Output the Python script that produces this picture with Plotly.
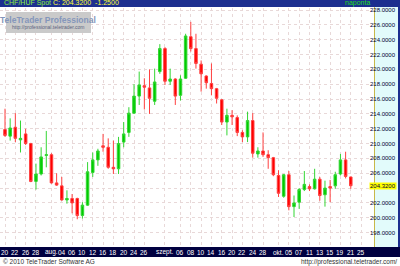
import plotly.graph_objects as go

# trading days shown on the axis (Jul 20 - Oct 25, 2010)
trade_days = [
    "2010-07-20","2010-07-21","2010-07-22","2010-07-23","2010-07-26","2010-07-27","2010-07-28","2010-07-29","2010-07-30",
    "2010-08-02","2010-08-03","2010-08-04","2010-08-05","2010-08-06","2010-08-09","2010-08-10","2010-08-11","2010-08-12",
    "2010-08-13","2010-08-16","2010-08-17","2010-08-18","2010-08-19","2010-08-20","2010-08-23","2010-08-24","2010-08-25",
    "2010-08-26","2010-08-27","2010-08-30","2010-08-31",
    "2010-09-01","2010-09-02","2010-09-03","2010-09-06","2010-09-07","2010-09-08","2010-09-09","2010-09-10","2010-09-13",
    "2010-09-14","2010-09-15","2010-09-16","2010-09-17","2010-09-20","2010-09-21","2010-09-22","2010-09-23","2010-09-24",
    "2010-09-27","2010-09-28","2010-09-29","2010-09-30",
    "2010-10-01","2010-10-04","2010-10-05","2010-10-06","2010-10-07","2010-10-08","2010-10-11","2010-10-12","2010-10-13",
    "2010-10-14","2010-10-15","2010-10-18","2010-10-19","2010-10-20","2010-10-21","2010-10-22","2010-10-25",
]

open_ = [211.9, 211.0, 212.2, 210.5, 211.3, 210.0, 204.9, 205.9, 208.4, 208.5,
         204.7, 204.3, 202.4, 202.6, 202.6, 200.3, 201.7, 206.1, 207.8, 209.7,
         209.5, 206.8, 206.6, 210.2, 211.5, 214.1, 216.4, 217.8, 217.5, 215.7,
         219.7, 222.8, 218.4, 218.7, 216.5, 218.8, 224.4, 222.8, 220.7, 219.1,
         218.1, 217.4, 215.9, 212.9, 213.8, 213.5, 211.5, 210.9, 213.1, 208.6,
         209.0, 208.5, 208.1, 205.7, 202.9, 205.8, 201.5, 202.1, 203.8, 204.2,
         203.9, 205.2, 203.1, 204.2, 204.3, 205.9, 207.8, 205.5]
high = [214.7, 213.4, 214.1, 213.1, 212.0, 210.1, 207.3, 209.5, 211.7, 208.7,
        206.0, 205.5, 203.7, 203.2, 202.7, 202.1, 207.5, 208.8, 209.3, 211.3,
        210.7, 210.4, 210.9, 212.9, 214.9, 218.0, 219.7, 218.8, 220.0, 220.1,
        223.4, 223.0, 220.1, 218.8, 219.2, 224.8, 226.4, 224.8, 221.2, 219.2,
        220.8, 217.5, 216.0, 214.7, 214.5, 213.8, 211.8, 214.3, 214.1, 209.5,
        211.5, 209.1, 208.2, 206.4, 205.9, 206.3, 203.0, 204.0, 206.3, 204.5,
        206.6, 205.5, 205.0, 205.1, 206.2, 208.6, 208.9, 205.5]
low = [210.9, 210.4, 210.2, 208.8, 209.8, 204.8, 203.8, 205.7, 206.8, 204.6,
       204.3, 202.3, 201.9, 200.6, 199.8, 199.9, 201.6, 205.5, 207.0, 208.9,
       206.6, 205.9, 205.9, 209.5, 210.9, 214.0, 215.2, 214.6, 214.0, 215.2,
       219.4, 217.9, 217.9, 215.2, 215.8, 218.7, 222.4, 220.1, 217.0, 217.4,
       216.5, 215.4, 212.5, 211.1, 212.5, 211.0, 210.2, 210.2, 208.1, 208.1,
       208.2, 206.6, 205.6, 202.8, 202.7, 201.0, 200.1, 201.2, 203.6, 203.6,
       203.8, 202.3, 201.5, 202.1, 203.9, 205.7, 205.3, 203.9]
close = [211.1, 212.1, 210.7, 210.7, 210.0, 204.9, 205.9, 208.2, 208.5, 204.7,
         204.4, 202.4, 202.6, 202.0, 200.3, 201.7, 206.2, 207.8, 209.0, 209.5,
         206.8, 206.6, 210.0, 211.3, 214.1, 216.4, 217.9, 217.6, 216.1, 218.3,
         222.8, 218.4, 218.7, 216.4, 218.7, 224.5, 222.8, 220.8, 219.4, 218.2,
         217.4, 216.1, 212.9, 213.8, 213.6, 211.5, 210.9, 213.1, 208.7, 209.0,
         208.5, 208.1, 205.8, 203.3, 205.8, 201.5, 202.0, 203.8, 204.5, 203.9,
         205.2, 203.0, 204.0, 204.0, 205.8, 207.8, 205.57, 204.32]

tick_dates = ["2010-07-20","2010-07-22","2010-07-26","2010-07-28","2010-08-02","2010-08-04","2010-08-06",
              "2010-08-10","2010-08-12","2010-08-16","2010-08-18","2010-08-20","2010-08-24","2010-08-26",
              "2010-09-01","2010-09-06","2010-09-08","2010-09-10","2010-09-14","2010-09-16","2010-09-20",
              "2010-09-22","2010-09-24","2010-09-28","2010-10-01","2010-10-05","2010-10-07","2010-10-11",
              "2010-10-13","2010-10-15","2010-10-19","2010-10-21","2010-10-25"]
tick_text = ["20","22","26","28","aug.","04","06","10","12","16","18","20","24","26",
             "szept.","06","08","10","14","16","20","22","24","28","okt.","05","07","11",
             "13","15","19","21","25"]

y_ticks = [198, 200, 202, 204, 206, 208, 210, 212, 214, 216, 218, 220, 222, 224, 226, 228]
y_text = ["198.0000","200.0000","202.0000","","206.0000","208.0000","210.0000","212.0000",
          "214.0000","216.0000","218.0000","220.0000","222.0000","224.0000","226.0000","228.0000"]

last_close = 204.32
title_name = "CHF/HUF Spot"
title_vals = "C: 204.3200  -1.2500"

FONT = "Liberation Sans Narrow, Arial Narrow, Liberation Sans, Arial, sans-serif"

n = len(open_)
fig = go.Figure(go.Candlestick(
    x=trade_days[:n], open=open_, high=high, low=low, close=close,
    increasing=dict(fillcolor="#00cc00", line=dict(color="#33d633", width=1)),
    decreasing=dict(fillcolor="#ff0000", line=dict(color="#ff4040", width=1)),
    whiskerwidth=0, showlegend=False, hoverinfo="skip",
))

W, H = 400, 266
L, R, T, B = 0, 26, 8, 19
pw, ph = W - L - R, H - T - B

def px_x(p):  # pixel -> paper x
    return (p - L) / pw

def px_y(p):  # pixel -> paper y
    return 1 - (p - T) / ph

shapes = [
    # title bar
    dict(type="rect", xref="paper", yref="paper", x0=px_x(0), x1=px_x(400), y0=px_y(7), y1=px_y(0),
         fillcolor="#1c2f8f", line=dict(width=0), layer="above"),
    # right axis panel
    dict(type="rect", xref="paper", yref="paper", x0=px_x(374), x1=px_x(398), y0=px_y(249), y1=px_y(7),
         fillcolor="#e2fbfb", line=dict(width=0), layer="above"),
    dict(type="line", xref="paper", yref="paper", x0=px_x(374.5), x1=px_x(374.5), y0=px_y(249), y1=px_y(7),
         line=dict(color="#c8b84a", width=1), layer="above"),
    dict(type="rect", xref="paper", yref="paper", x0=px_x(398), x1=px_x(400), y0=px_y(257), y1=px_y(0),
         fillcolor="#1c2f8f", line=dict(width=0), layer="above"),
    # bottom date bar
    dict(type="rect", xref="paper", yref="paper", x0=px_x(0), x1=px_x(400), y0=px_y(257), y1=px_y(247),
         fillcolor="#000040", line=dict(width=0), layer="above"),
    # watermark box
    dict(type="rect", xref="paper", yref="paper", x0=px_x(6), x1=px_x(91), y0=px_y(33), y1=px_y(12),
         fillcolor="#cacaca", line=dict(width=0), layer="above"),
]

annotations = [
    dict(xref="paper", yref="paper", x=px_x(2), y=px_y(3.5), xanchor="left", yanchor="middle",
         text=f"<span style='color:#8cf03c'>{title_name}</span> <span style='color:#ffff33'>{title_vals}</span>",
         showarrow=False, font=dict(size=7, family=FONT)),
    dict(xref="paper", yref="paper", x=px_x(372), y=px_y(3.5), xanchor="right", yanchor="middle",
         text="naponta", showarrow=False, font=dict(size=7, family=FONT, color="#22dd22")),
    dict(xref="paper", yref="paper", x=px_x(48), y=px_y(19.5), xanchor="center", yanchor="middle",
         text="<b>TeleTrader Professional</b>", showarrow=False,
         font=dict(size=8.5, family="Liberation Sans, Arial, sans-serif", color="#8496bb")),
    dict(xref="paper", yref="paper", x=px_x(48), y=px_y(27), xanchor="center", yanchor="middle",
         text="http://professional.teletrader.com", showarrow=False,
         font=dict(size=5, family=FONT, color="#5a6480")),
    dict(xref="paper", yref="paper", x=px_x(1), y=px_y(261.5), xanchor="left", yanchor="middle",
         text="© 2010 TeleTrader Software AG", showarrow=False,
         font=dict(size=6.5, family=FONT, color="#333333")),
    dict(xref="paper", yref="paper", x=px_x(399), y=px_y(261.5), xanchor="right", yanchor="middle",
         text="http://professional.teletrader.com/", showarrow=False,
         font=dict(size=6.5, family=FONT, color="#333333")),
]

# x tick labels (on the dark date bar)
for d, t in zip(tick_dates, tick_text):
    annotations.append(dict(xref="x", yref="paper", x=d, y=px_y(252), xanchor="center", yanchor="middle",
                            text=t, showarrow=False, font=dict(size=6.5, family=FONT, color="white")))

# y tick labels (on the right panel)
for v, t in zip(y_ticks, y_text):
    if t:
        annotations.append(dict(xref="paper", yref="y", x=px_x(397.5), y=v, xanchor="right", yanchor="middle",
                                text=t, showarrow=False, borderpad=0,
                                font=dict(size=6, family=FONT, color="#000033")))

annotations.append(dict(xref="paper", yref="y", x=px_x(397.5), y=last_close, xanchor="right", yanchor="middle",
                        text=f"{last_close:.4f}", showarrow=False, bgcolor="#ffff00", borderpad=0,
                        font=dict(size=6, family=FONT, color="#000033")))

fig.update_layout(
    width=W, height=H,
    margin=dict(l=L, r=R, t=T, b=B),
    paper_bgcolor="white", plot_bgcolor="white",
    shapes=shapes, annotations=annotations,
    xaxis=dict(type="category", categoryorder="array", categoryarray=trade_days,
               range=[-0.97, 71.5], tickvals=tick_dates, showticklabels=False, ticks="",
               showgrid=True, gridcolor="#e8d8d8", griddash="dot", gridwidth=1,
               rangeslider=dict(visible=False), zeroline=False, showline=False, fixedrange=True),
    yaxis=dict(side="right", range=[196.06, 228.27], tickvals=y_ticks, showticklabels=False, ticks="",
               showgrid=True, gridcolor="#e8d8d8", griddash="dot", gridwidth=1,
               zeroline=False, showline=False, fixedrange=True),
)

fig.write_html("out.html")
